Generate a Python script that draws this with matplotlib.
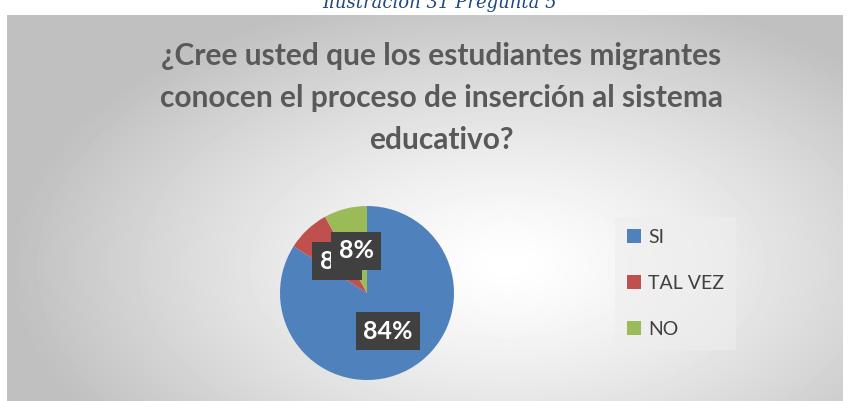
import numpy as np
import matplotlib.pyplot as plt

labels = ['SI', 'TAL VEZ', 'NO']
values = [84, 8, 8]
colors = ['#4F81BD', '#C0504D', '#9BBB59']
title = '¿Cree usted que los estudiantes migrantes\nconocen el proceso de inserción al sistema\neducativo?'

W, H = 849, 401
fig = plt.figure(figsize=(W / 100, H / 100), dpi=100)
fig.patch.set_facecolor('white')

# fondo con degradado radial
bg = fig.add_axes([7 / W, 0, (843 - 7) / W, (401 - 15) / H])
yy, xx = np.mgrid[0:386, 0:836]
cx, cy = 500, 250
d = np.sqrt(((xx - cx) / 500) ** 2 + ((yy - cy) / 280) ** 2)
d = np.clip(d, 0, 1)
grad = 1 - 0.25 * d ** 1.3
bg.imshow(grad, cmap='gray', vmin=0, vmax=1, aspect='auto', interpolation='bilinear')
bg.axis('off')

# titulo de la ilustracion (cortado arriba)
fig.text(440 / W, 1 - 2 / H, 'Ilustración 31 Pregunta 5', ha='center', va='center',
         fontsize=13, style='italic', color='#1F497D', family='DejaVu Serif')

fig.text(441 / W, 1 - 98 / H, title, ha='center', va='center', fontsize=21.5,
         fontweight='bold', color='#595959', family='Lato', linespacing=1.6)

ax = fig.add_axes([280 / W, (401 - 380) / H, 174 / W, 174 / H])
wedges, texts, autotexts = ax.pie(values, colors=colors, startangle=90, counterclock=False,
                                  autopct='%1.0f%%', pctdistance=0.5,
                                  wedgeprops=dict(linewidth=0))
for t in autotexts:
    t.set_color('white')
    t.set_fontsize(18)
    t.set_fontweight('bold')
    t.set_family('Lato')
    t.set_bbox(dict(facecolor='#404040', edgecolor='none', boxstyle='square,pad=0.3'))
ax.set_xlim(-1, 1)
ax.set_ylim(-1, 1)
ax.set_aspect('equal')

leg = fig.legend(wedges, labels, loc='upper left', bbox_to_anchor=(615 / W, 1 - 217 / H),
                 frameon=True, fancybox=False, facecolor='#eeeeee', edgecolor='none',
                 framealpha=0.6, prop={'family': 'Lato', 'size': 14}, labelspacing=1.5,
                 handlelength=0.75, handleheight=0.75, handletextpad=0.35, borderpad=0.6,
                 borderaxespad=0)
for t in leg.get_texts():
    t.set_color('#404040')

fig.savefig('out.png', dpi=100)
